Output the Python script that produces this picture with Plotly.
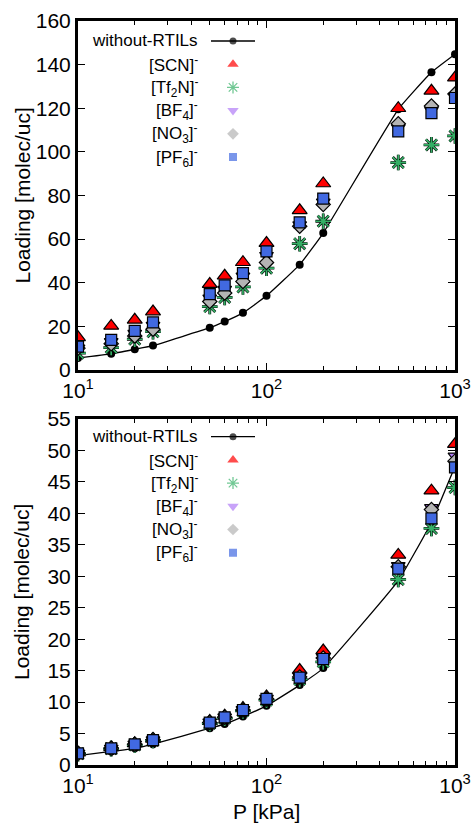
import plotly.graph_objects as go

# ---------------- data ----------------
pressure = [10, 15, 20, 25, 50, 60, 75, 100, 150, 200, 500, 750, 1000]

# top panel loadings [molec/uc]
top_without = [5.5, 7.4, 9.5, 11.2, 19.4, 22.2, 26.2, 34.0, 48.3, 62.8, 119.5, 136.5, 144.8]
top_scn = [15.0, 20.2, 23.0, 26.8, 39.4, 43.2, 49.4, 58.2, 73.2, 85.5, 120.0, 128.0, 134.0]
top_tf2n = [7.7, 10.3, 14.1, 17.6, 29.1, 33.3, 38.1, 46.7, 57.9, 68.2, 95.1, 103.2, 107.3]
top_bf4 = [10.0, 13.0, 16.8, 20.5, 33.0, 37.0, 43.0, 52.5, 66.5, 77.0, 111.0, 119.0, 125.5]
top_no3 = [10.0, 12.0, 15.6, 18.7, 31.4, 35.3, 40.6, 49.3, 65.9, 75.9, 112.9, 121.0, 126.5]
top_pf6 = [10.7, 13.8, 17.9, 21.8, 34.8, 38.8, 44.4, 54.4, 67.7, 78.6, 109.4, 117.8, 124.7]

# bottom panel loadings [molec/uc]
bot_without = [1.5, 2.15, 2.65, 3.3, 5.85, 6.5, 7.7, 9.4, 12.7, 15.4, 29.3, 38.6, 47.5]
bot_scn = [1.95, 2.8, 3.45, 4.15, 7.0, 7.85, 9.05, 10.9, 15.1, 18.2, 33.4, 43.6, 51.0]
bot_tf2n = [1.8, 2.6, 3.2, 3.9, 6.6, 7.45, 8.6, 10.3, 13.6, 16.4, 29.5, 37.6, 44.1]
bot_bf4 = [1.85, 2.65, 3.3, 4.0, 6.8, 7.6, 8.8, 10.6, 14.1, 17.1, 31.7, 40.9, 49.1]
bot_no3 = [1.85, 2.65, 3.3, 4.0, 6.75, 7.6, 8.75, 10.5, 14.0, 17.0, 31.5, 40.6, 48.3]
bot_pf6 = [1.86, 2.64, 3.28, 3.97, 6.73, 7.58, 8.74, 10.5, 13.9, 16.85, 31.2, 39.2, 47.3]

series_names = [
    "without-RTILs",
    "[SCN]<sup>-</sup>",
    "[Tf<sub>2</sub>N]<sup>-</sup>",
    "[BF<sub>4</sub>]<sup>-</sup>",
    "[NO<sub>3</sub>]<sup>-</sup>",
    "[PF<sub>6</sub>]<sup>-</sup>",
]

x_tickvals = [10, 100, 1000]
x_ticktext = ["10<sup>1</sup>", "10<sup>2</sup>", "10<sup>3</sup>"]
x_title = "P [kPa]"
y_title = "Loading [molec/uc]"

# ---------------- styles ----------------
colors = ["#000000", "#ff0000", "#35b066", "#b07cf7", "#b4b4b4", "#4169e1"]
symbols = ["circle", "triangle-up", "asterisk-open", "triangle-down", "diamond", "square"]
plot_sizes = [8, 13, 13, 12, 11, 11]
key_sizes = [7, 10, 10, 10, 9, 8]

FONT = "Liberation Sans, Arial, Helvetica, sans-serif"
W, H = 475, 826

def px_x(p):
    return p / W

def px_y(p):
    return 1 - p / H

fig = go.Figure()

panels = [
    dict(xa="x", ya="y", data=[top_without, top_scn, top_tf2n, top_bf4, top_no3, top_pf6],
         ydom=[px_y(370), px_y(21)], yrange=[0, 160], dtick=20,
         lx="x3", ly="y3", ldom=[px_y(168.6), px_y(29.4)]),
    dict(xa="x2", ya="y2", data=[bot_without, bot_scn, bot_tf2n, bot_bf4, bot_no3, bot_pf6],
         ydom=[px_y(765), px_y(419)], yrange=[0, 55], dtick=5,
         lx="x4", ly="y4", ldom=[px_y(564.3), px_y(425.1)]),
]

xdom = [px_x(78), px_x(455)]
minor_vals = [m * 10 ** e for e in (1, 2) for m in range(2, 10)]

annotations = []
layout_axes = {}

for k, pan in enumerate(panels):
    xa, ya = pan["xa"], pan["ya"]
    for i, vals in enumerate(pan["data"]):
        if i == 0:
            fig.add_trace(go.Scatter(
                x=pressure, y=vals, xaxis=xa, yaxis=ya, mode="lines+markers",
                line=dict(color="black", width=1.3, shape="spline", smoothing=0.35),
                marker=dict(symbol="circle", size=plot_sizes[0], color="black"),
                showlegend=False, hoverinfo="skip"))
        elif symbols[i] == "asterisk-open":
            fig.add_trace(go.Scatter(
                x=pressure, y=vals, xaxis=xa, yaxis=ya, mode="markers",
                marker=dict(symbol="asterisk-open", size=plot_sizes[i], color="black",
                            line=dict(color="black", width=2.8)),
                showlegend=False, hoverinfo="skip"))
            fig.add_trace(go.Scatter(
                x=pressure, y=vals, xaxis=xa, yaxis=ya, mode="markers",
                marker=dict(symbol="asterisk-open", size=plot_sizes[i], color=colors[i],
                            line=dict(color=colors[i], width=1.7)),
                showlegend=False, hoverinfo="skip"))
        else:
            fig.add_trace(go.Scatter(
                x=pressure, y=vals, xaxis=xa, yaxis=ya, mode="markers",
                marker=dict(symbol=symbols[i], size=plot_sizes[i], color=colors[i],
                            line=dict(color="black", width=1.2)),
                showlegend=False, hoverinfo="skip"))

    # ----- custom gnuplot-style key -----
    lx, ly = pan["lx"], pan["ly"]
    fig.add_trace(go.Scatter(x=[0, 1], y=[0, 0], xaxis=lx, yaxis=ly, mode="lines",
                             line=dict(color="black", width=1.3),
                             showlegend=False, hoverinfo="skip"))
    n = len(series_names)
    fig.add_trace(go.Scatter(
        x=[0.5] * n, y=list(range(n)), xaxis=lx, yaxis=ly, mode="markers",
        marker=dict(symbol=symbols, size=key_sizes, color=colors,
                    line=dict(color=colors, width=[0, 0, 1.3, 0, 0, 0])),
        showlegend=False, hoverinfo="skip"))
    for i, name in enumerate(series_names):
        annotations.append(dict(
            text=name, xref=f"{lx} domain", x=0, xanchor="right", xshift=-11,
            yref=ly, y=i, yanchor="middle", showarrow=False,
            font=dict(family=FONT, size=17, color="black")))

    sfx = "" if k == 0 else "2"
    lsfx = "3" if k == 0 else "4"
    layout_axes[f"xaxis{sfx}"] = dict(
        type="log", domain=xdom, anchor=ya, range=[1, 3], automargin=False,
        tickvals=x_tickvals, ticktext=x_ticktext,
        ticks="inside", ticklen=7, tickwidth=1, tickcolor="black",
        minor=dict(tickvals=minor_vals, ticks="inside", ticklen=4, tickwidth=1,
                   tickcolor="black", showgrid=False),
        showline=True, linecolor="black", linewidth=3, mirror="ticks",
        showgrid=False, zeroline=False,
        tickfont=dict(family=FONT, size=21, color="black"))
    layout_axes[f"yaxis{sfx}"] = dict(
        domain=pan["ydom"], anchor=xa, range=pan["yrange"], dtick=pan["dtick"],
        automargin=False,
        ticks="inside", ticklen=7, tickwidth=1, tickcolor="black",
        showline=True, linecolor="black", linewidth=3, mirror="ticks",
        showgrid=False, zeroline=False,
        tickfont=dict(family=FONT, size=21, color="black"))
    layout_axes[f"xaxis{lsfx}"] = dict(
        domain=[px_x(211), px_x(255)], anchor=ly, range=[0, 1], visible=False,
        fixedrange=True, automargin=False)
    layout_axes[f"yaxis{lsfx}"] = dict(
        domain=pan["ldom"], anchor=lx, range=[n - 0.5, -0.5], visible=False,
        fixedrange=True, automargin=False)

    annotations.append(dict(
        text=y_title, textangle=-90, xref="paper", x=px_x(22), xanchor="center",
        yref="paper", y=(pan["ydom"][0] + pan["ydom"][1]) / 2, yanchor="middle",
        showarrow=False, font=dict(family=FONT, size=21, color="black")))

annotations.append(dict(
    text=x_title, xref="paper", x=(xdom[0] + xdom[1]) / 2, xanchor="center",
    yref="paper", y=px_y(811), yanchor="middle", showarrow=False,
    font=dict(family=FONT, size=21, color="black")))

fig.update_layout(
    template="none",
    width=W, height=H, autosize=False,
    margin=dict(l=0, r=0, t=0, b=0, pad=0),
    paper_bgcolor="white", plot_bgcolor="white",
    showlegend=False, annotations=annotations,
    font=dict(family=FONT, size=21, color="black"),
    **layout_axes)

fig.write_html("out.html")
